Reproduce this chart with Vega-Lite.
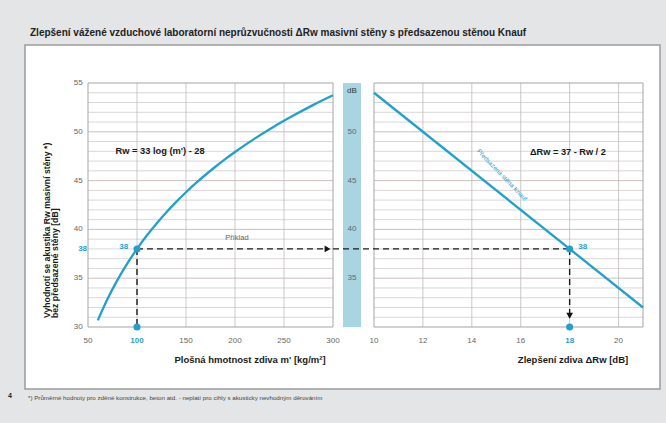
{
  "$schema": "https://vega.github.io/schema/vega-lite/v6.json",
  "autosize": "none",
  "width": 635,
  "height": 344,
  "padding": {"left": 25, "top": 45, "right": 6, "bottom": 34},
  "background": "#e4e5e7",
  "config": {
    "view": {"fill": "white", "stroke": "#9c9c9c", "strokeWidth": 1.5},
    "font": "Liberation Sans",
    "text": {"font": "Liberation Sans"}
  },
  "title": {
    "text": "Zlepšení vážené vzduchové laboratorní neprůzvučnosti ΔRw masivní stěny s předsazenou stěnou Knauf",
    "anchor": "start",
    "frame": "group",
    "fontSize": 10,
    "fontWeight": "bold",
    "font": "Liberation Sans",
    "color": "#222222",
    "offset": 7,
    "dx": 5
  },
  "datasets": {
    "curve": [
      {"m": 60, "R": 30.68}, {"m": 70, "R": 32.89}, {"m": 80, "R": 34.8}, {"m": 90, "R": 36.49},
      {"m": 100, "R": 38.0}, {"m": 110, "R": 39.37}, {"m": 120, "R": 40.61}, {"m": 130, "R": 41.76},
      {"m": 140, "R": 42.82}, {"m": 150, "R": 43.81}, {"m": 160, "R": 44.74}, {"m": 170, "R": 45.6},
      {"m": 180, "R": 46.42}, {"m": 190, "R": 47.2}, {"m": 200, "R": 47.93}, {"m": 220, "R": 49.3},
      {"m": 240, "R": 50.55}, {"m": 260, "R": 51.69}, {"m": 280, "R": 52.76}, {"m": 300, "R": 53.74}
    ],
    "knauf": [{"dR": 10, "R": 54}, {"dR": 21, "R": 32}],
    "hgrid": [
      {"y": 31}, {"y": 32}, {"y": 33}, {"y": 34}, {"y": 35}, {"y": 36}, {"y": 37}, {"y": 38},
      {"y": 39}, {"y": 40}, {"y": 41}, {"y": 42}, {"y": 43}, {"y": 44}, {"y": 45}, {"y": 46},
      {"y": 47}, {"y": 48}, {"y": 49}, {"y": 50}, {"y": 51}, {"y": 52}, {"y": 53}, {"y": 54}
    ],
    "vgridL": [{"x": 100}, {"x": 150}, {"x": 200}, {"x": 250}],
    "vgridR": [{"x": 12}, {"x": 14}, {"x": 16}, {"x": 18}, {"x": 20}]
  },
  "layer": [
    {
      "layer": [
        {
          "data": {"values": [{"lo": 310.2, "hi": 328.6, "b": 30, "t": 55}]},
          "mark": {"type": "rect", "color": "#a9d5e2"},
          "encoding": {
            "x": {"field": "lo", "type": "quantitative", "scale": {"domain": [-14.286, 633.67], "nice": false, "zero": false}, "axis": null},
            "x2": {"field": "hi"},
            "y": {"field": "b", "type": "quantitative", "scale": {"domain": [23.648, 58.893], "nice": false, "zero": false}, "axis": null},
            "y2": {"field": "t"}
          }
        },
        {
          "data": {"name": "hgrid"},
          "mark": {"type": "rule", "strokeWidth": 0.8},
          "encoding": {
            "x": {"datum": 50, "type": "quantitative", "scale": {"domain": [-14.286, 633.67], "nice": false, "zero": false}, "axis": null},
            "x2": {"datum": 300},
            "y": {"field": "y", "type": "quantitative", "scale": {"domain": [23.648, 58.893], "nice": false, "zero": false}, "axis": null},
            "color": {"condition": {"test": "datum.y % 5 == 0", "value": "#bfb0b0"}, "value": "#d0cccc"}
          }
        },
        {
          "data": {"name": "vgridL"},
          "mark": {"type": "rule", "strokeWidth": 0.8, "color": "#bfbaba"},
          "encoding": {
            "x": {"field": "x", "type": "quantitative", "scale": {"domain": [-14.286, 633.67], "nice": false, "zero": false}, "axis": null},
            "y": {"datum": 30, "type": "quantitative", "scale": {"domain": [23.648, 58.893], "nice": false, "zero": false}, "axis": null},
            "y2": {"datum": 55}
          }
        },
        {
          "data": {"values": [{}]},
          "mark": {"type": "rect", "fillOpacity": 0, "stroke": "#a5a5a5", "strokeWidth": 1},
          "encoding": {
            "x": {"datum": 50, "type": "quantitative", "scale": {"domain": [-14.286, 633.67], "nice": false, "zero": false}, "axis": null},
            "x2": {"datum": 300},
            "y": {"datum": 30, "type": "quantitative", "scale": {"domain": [23.648, 58.893], "nice": false, "zero": false}, "axis": null},
            "y2": {"datum": 55}
          }
        },
        {
          "data": {"name": "curve"},
          "mark": {"type": "line", "interpolate": "monotone", "color": "#22a0cb", "strokeWidth": 2.3},
          "encoding": {
            "x": {"field": "m", "type": "quantitative", "scale": {"domain": [-14.286, 633.67], "nice": false, "zero": false}, "axis": null},
            "y": {"field": "R", "type": "quantitative", "scale": {"domain": [23.648, 58.893], "nice": false, "zero": false}, "axis": null}
          }
        },
        {
          "data": {"values": [{"x": 100, "x2": 294, "y": 38, "y2": 38}, {"x": 100, "x2": 100, "y": 38, "y2": 30}]},
          "mark": {"type": "rule", "color": "#1a1a1a", "strokeWidth": 1.4, "strokeDash": [6, 4]},
          "encoding": {
            "x": {"field": "x", "type": "quantitative", "scale": {"domain": [-14.286, 633.67], "nice": false, "zero": false}, "axis": null},
            "x2": {"field": "x2"},
            "y": {"field": "y", "type": "quantitative", "scale": {"domain": [23.648, 58.893], "nice": false, "zero": false}, "axis": null},
            "y2": {"field": "y2"}
          }
        },
        {
          "data": {"values": [{"x": 294.4, "y": 38}]},
          "mark": {"type": "point", "shape": "triangle-right", "filled": true, "size": 45, "color": "#111111", "opacity": 1},
          "encoding": {
            "x": {"field": "x", "type": "quantitative", "scale": {"domain": [-14.286, 633.67], "nice": false, "zero": false}, "axis": null},
            "y": {"field": "y", "type": "quantitative", "scale": {"domain": [23.648, 58.893], "nice": false, "zero": false}, "axis": null}
          }
        },
        {
          "data": {"values": [{"x": 100, "y": 38}, {"x": 100, "y": 30}]},
          "mark": {"type": "point", "shape": "circle", "filled": true, "size": 50, "color": "#22a0cb", "opacity": 1},
          "encoding": {
            "x": {"field": "x", "type": "quantitative", "scale": {"domain": [-14.286, 633.67], "nice": false, "zero": false}, "axis": null},
            "y": {"field": "y", "type": "quantitative", "scale": {"domain": [23.648, 58.893], "nice": false, "zero": false}, "axis": null}
          }
        },
        {
          "data": {"values": [
            {"x": 50, "y": 28.57, "t": "50"}, {"x": 150, "y": 28.57, "t": "150"}, {"x": 200, "y": 28.57, "t": "200"},
            {"x": 250, "y": 28.57, "t": "250"}, {"x": 300, "y": 28.57, "t": "300"}
          ]},
          "mark": {"type": "text", "align": "center", "baseline": "middle", "fontSize": 8, "color": "#666666"},
          "encoding": {
            "x": {"field": "x", "type": "quantitative", "scale": {"domain": [-14.286, 633.67], "nice": false, "zero": false}, "axis": null},
            "y": {"field": "y", "type": "quantitative", "scale": {"domain": [23.648, 58.893], "nice": false, "zero": false}, "axis": null},
            "text": {"field": "t"}
          }
        },
        {
          "data": {"values": [
            {"x": 44.5, "y": 30, "t": "30"}, {"x": 44.5, "y": 35, "t": "35"}, {"x": 44.5, "y": 40, "t": "40"},
            {"x": 44.5, "y": 45, "t": "45"}, {"x": 44.5, "y": 50, "t": "50"}, {"x": 44.5, "y": 55, "t": "55"}
          ]},
          "mark": {"type": "text", "align": "right", "baseline": "middle", "fontSize": 8, "color": "#666666"},
          "encoding": {
            "x": {"field": "x", "type": "quantitative", "scale": {"domain": [-14.286, 633.67], "nice": false, "zero": false}, "axis": null},
            "y": {"field": "y", "type": "quantitative", "scale": {"domain": [23.648, 58.893], "nice": false, "zero": false}, "axis": null},
            "text": {"field": "t"}
          }
        },
        {
          "data": {"values": [{"x": 44.5, "y": 38, "t": "38", "a": "right"}, {"x": 100, "y": 28.57, "t": "100", "a": "center"}]},
          "mark": {"type": "text", "baseline": "middle", "fontSize": 8, "fontWeight": "bold", "color": "#1f9fcf"},
          "encoding": {
            "x": {"field": "x", "type": "quantitative", "scale": {"domain": [-14.286, 633.67], "nice": false, "zero": false}, "axis": null},
            "y": {"field": "y", "type": "quantitative", "scale": {"domain": [23.648, 58.893], "nice": false, "zero": false}, "axis": null},
            "text": {"field": "t"},
            "align": {"field": "a"}
          }
        },
        {
          "data": {"values": [{"x": 78, "y": 48, "t": "Rw = 33 log (m') - 28"}]},
          "mark": {"type": "text", "align": "left", "baseline": "middle", "fontSize": 9.3, "fontWeight": "bold", "color": "#1a1a1a"},
          "encoding": {
            "x": {"field": "x", "type": "quantitative", "scale": {"domain": [-14.286, 633.67], "nice": false, "zero": false}, "axis": null},
            "y": {"field": "y", "type": "quantitative", "scale": {"domain": [23.648, 58.893], "nice": false, "zero": false}, "axis": null},
            "text": {"field": "t"}
          }
        },
        {
          "data": {"values": [{"x": 202, "y": 39.1, "t": "Příklad"}]},
          "mark": {"type": "text", "align": "center", "baseline": "middle", "fontSize": 7.5, "color": "#666666"},
          "encoding": {
            "x": {"field": "x", "type": "quantitative", "scale": {"domain": [-14.286, 633.67], "nice": false, "zero": false}, "axis": null},
            "y": {"field": "y", "type": "quantitative", "scale": {"domain": [23.648, 58.893], "nice": false, "zero": false}, "axis": null},
            "text": {"field": "t"}
          }
        },
        {
          "data": {"values": [{"x": 91, "y": 38.2, "t": "38"}]},
          "mark": {"type": "text", "align": "right", "baseline": "middle", "fontSize": 8, "fontWeight": "bold", "color": "#1f9fcf"},
          "encoding": {
            "x": {"field": "x", "type": "quantitative", "scale": {"domain": [-14.286, 633.67], "nice": false, "zero": false}, "axis": null},
            "y": {"field": "y", "type": "quantitative", "scale": {"domain": [23.648, 58.893], "nice": false, "zero": false}, "axis": null},
            "text": {"field": "t"}
          }
        },
        {
          "data": {"values": [{"x": 215.3, "y": 26.62, "t": "Plošná hmotnost zdiva m' [kg/m²]"}]},
          "mark": {"type": "text", "align": "center", "baseline": "middle", "fontSize": 9.5, "fontWeight": "bold", "color": "#1a1a1a"},
          "encoding": {
            "x": {"field": "x", "type": "quantitative", "scale": {"domain": [-14.286, 633.67], "nice": false, "zero": false}, "axis": null},
            "y": {"field": "y", "type": "quantitative", "scale": {"domain": [23.648, 58.893], "nice": false, "zero": false}, "axis": null},
            "text": {"field": "t"}
          }
        },
        {
          "data": {"values": [
            {"x": 8.16, "y": 30.92, "t": "Vyhodnotí se akustika Rw masivní stěny *)"},
            {"x": 16.33, "y": 30.92, "t": "bez předsazené stěny [dB]"}
          ]},
          "mark": {"type": "text", "align": "left", "baseline": "middle", "angle": 270, "fontSize": 8.7, "fontWeight": "bold", "color": "#1a1a1a"},
          "encoding": {
            "x": {"field": "x", "type": "quantitative", "scale": {"domain": [-14.286, 633.67], "nice": false, "zero": false}, "axis": null},
            "y": {"field": "y", "type": "quantitative", "scale": {"domain": [23.648, 58.893], "nice": false, "zero": false}, "axis": null},
            "text": {"field": "t"}
          }
        },
        {
          "data": {"values": [{"x": -11.2, "y": 22.73, "t": "*) Průměrné hodnoty pro zděné konstrukce, beton atd. - neplatí pro cihly s akusticky nevhodným děrováním"}]},
          "mark": {"type": "text", "align": "left", "baseline": "middle", "fontSize": 6.2, "color": "#444444"},
          "encoding": {
            "x": {"field": "x", "type": "quantitative", "scale": {"domain": [-14.286, 633.67], "nice": false, "zero": false}, "axis": null},
            "y": {"field": "y", "type": "quantitative", "scale": {"domain": [23.648, 58.893], "nice": false, "zero": false}, "axis": null},
            "text": {"field": "t"}
          }
        },
        {
          "data": {"values": [{"x": -29.6, "y": 22.9, "t": "4"}]},
          "mark": {"type": "text", "align": "center", "baseline": "middle", "fontSize": 7, "fontWeight": "bold", "color": "#222222"},
          "encoding": {
            "x": {"field": "x", "type": "quantitative", "scale": {"domain": [-14.286, 633.67], "nice": false, "zero": false}, "axis": null},
            "y": {"field": "y", "type": "quantitative", "scale": {"domain": [23.648, 58.893], "nice": false, "zero": false}, "axis": null},
            "text": {"field": "t"}
          }
        },
        {
          "data": {"values": [{"x": 319.4, "y": 50, "t": "50"}, {"x": 319.4, "y": 45, "t": "45"}, {"x": 319.4, "y": 40, "t": "40"}, {"x": 319.4, "y": 35, "t": "35"}]},
          "mark": {"type": "text", "align": "center", "baseline": "middle", "fontSize": 8, "color": "#5a6a70"},
          "encoding": {
            "x": {"field": "x", "type": "quantitative", "scale": {"domain": [-14.286, 633.67], "nice": false, "zero": false}, "axis": null},
            "y": {"field": "y", "type": "quantitative", "scale": {"domain": [23.648, 58.893], "nice": false, "zero": false}, "axis": null},
            "text": {"field": "t"}
          }
        },
        {
          "data": {"values": [{"x": 319.4, "y": 54.18, "t": "dB"}]},
          "mark": {"type": "text", "align": "center", "baseline": "middle", "fontSize": 8, "color": "#2a3a40"},
          "encoding": {
            "x": {"field": "x", "type": "quantitative", "scale": {"domain": [-14.286, 633.67], "nice": false, "zero": false}, "axis": null},
            "y": {"field": "y", "type": "quantitative", "scale": {"domain": [23.648, 58.893], "nice": false, "zero": false}, "axis": null},
            "text": {"field": "t"}
          }
        }
      ]
    },
    {
      "layer": [
        {
          "data": {"name": "hgrid"},
          "mark": {"type": "rule", "strokeWidth": 0.8},
          "encoding": {
            "x": {"datum": 10, "type": "quantitative", "scale": {"domain": [-4.271, 21.695], "nice": false, "zero": false}, "axis": null},
            "x2": {"datum": 21},
            "y": {"field": "y", "type": "quantitative", "scale": {"domain": [23.648, 58.893], "nice": false, "zero": false}, "axis": null},
            "color": {"condition": {"test": "datum.y % 5 == 0", "value": "#bfb0b0"}, "value": "#d0cccc"}
          }
        },
        {
          "data": {"name": "vgridR"},
          "mark": {"type": "rule", "strokeWidth": 0.8, "color": "#bfbaba"},
          "encoding": {
            "x": {"field": "x", "type": "quantitative", "scale": {"domain": [-4.271, 21.695], "nice": false, "zero": false}, "axis": null},
            "y": {"datum": 30, "type": "quantitative", "scale": {"domain": [23.648, 58.893], "nice": false, "zero": false}, "axis": null},
            "y2": {"datum": 55}
          }
        },
        {
          "data": {"values": [{}]},
          "mark": {"type": "rect", "fillOpacity": 0, "stroke": "#a5a5a5", "strokeWidth": 1},
          "encoding": {
            "x": {"datum": 10, "type": "quantitative", "scale": {"domain": [-4.271, 21.695], "nice": false, "zero": false}, "axis": null},
            "x2": {"datum": 21},
            "y": {"datum": 30, "type": "quantitative", "scale": {"domain": [23.648, 58.893], "nice": false, "zero": false}, "axis": null},
            "y2": {"datum": 55}
          }
        },
        {
          "data": {"name": "knauf"},
          "mark": {"type": "line", "color": "#22a0cb", "strokeWidth": 2.3},
          "encoding": {
            "x": {"field": "dR", "type": "quantitative", "scale": {"domain": [-4.271, 21.695], "nice": false, "zero": false}, "axis": null},
            "y": {"field": "R", "type": "quantitative", "scale": {"domain": [23.648, 58.893], "nice": false, "zero": false}, "axis": null}
          }
        },
        {
          "data": {"values": [{"x": 8.324, "x2": 18, "y": 38, "y2": 38}, {"x": 18, "x2": 18, "y": 38, "y2": 31.3}]},
          "mark": {"type": "rule", "color": "#1a1a1a", "strokeWidth": 1.4, "strokeDash": [6, 4]},
          "encoding": {
            "x": {"field": "x", "type": "quantitative", "scale": {"domain": [-4.271, 21.695], "nice": false, "zero": false}, "axis": null},
            "x2": {"field": "x2"},
            "y": {"field": "y", "type": "quantitative", "scale": {"domain": [23.648, 58.893], "nice": false, "zero": false}, "axis": null},
            "y2": {"field": "y2"}
          }
        },
        {
          "data": {"values": [{"x": 18, "y": 31.15}]},
          "mark": {"type": "point", "shape": "triangle-down", "filled": true, "size": 45, "color": "#111111", "opacity": 1},
          "encoding": {
            "x": {"field": "x", "type": "quantitative", "scale": {"domain": [-4.271, 21.695], "nice": false, "zero": false}, "axis": null},
            "y": {"field": "y", "type": "quantitative", "scale": {"domain": [23.648, 58.893], "nice": false, "zero": false}, "axis": null}
          }
        },
        {
          "data": {"values": [{"x": 18, "y": 38}, {"x": 18, "y": 30}]},
          "mark": {"type": "point", "shape": "circle", "filled": true, "size": 50, "color": "#22a0cb", "opacity": 1},
          "encoding": {
            "x": {"field": "x", "type": "quantitative", "scale": {"domain": [-4.271, 21.695], "nice": false, "zero": false}, "axis": null},
            "y": {"field": "y", "type": "quantitative", "scale": {"domain": [23.648, 58.893], "nice": false, "zero": false}, "axis": null}
          }
        },
        {
          "data": {"values": [
            {"x": 10, "y": 28.57, "t": "10"}, {"x": 12, "y": 28.57, "t": "12"}, {"x": 14, "y": 28.57, "t": "14"},
            {"x": 16, "y": 28.57, "t": "16"}, {"x": 20, "y": 28.57, "t": "20"}
          ]},
          "mark": {"type": "text", "align": "center", "baseline": "middle", "fontSize": 8, "color": "#666666"},
          "encoding": {
            "x": {"field": "x", "type": "quantitative", "scale": {"domain": [-4.271, 21.695], "nice": false, "zero": false}, "axis": null},
            "y": {"field": "y", "type": "quantitative", "scale": {"domain": [23.648, 58.893], "nice": false, "zero": false}, "axis": null},
            "text": {"field": "t"}
          }
        },
        {
          "data": {"values": [{"x": 18, "y": 28.57, "t": "18"}]},
          "mark": {"type": "text", "align": "center", "baseline": "middle", "fontSize": 8, "fontWeight": "bold", "color": "#1f9fcf"},
          "encoding": {
            "x": {"field": "x", "type": "quantitative", "scale": {"domain": [-4.271, 21.695], "nice": false, "zero": false}, "axis": null},
            "y": {"field": "y", "type": "quantitative", "scale": {"domain": [23.648, 58.893], "nice": false, "zero": false}, "axis": null},
            "text": {"field": "t"}
          }
        },
        {
          "data": {"values": [{"x": 16.38, "y": 47.93, "t": "ΔRw = 37 - Rw / 2"}]},
          "mark": {"type": "text", "align": "left", "baseline": "middle", "fontSize": 9.2, "fontWeight": "bold", "color": "#1a1a1a"},
          "encoding": {
            "x": {"field": "x", "type": "quantitative", "scale": {"domain": [-4.271, 21.695], "nice": false, "zero": false}, "axis": null},
            "y": {"field": "y", "type": "quantitative", "scale": {"domain": [23.648, 58.893], "nice": false, "zero": false}, "axis": null},
            "text": {"field": "t"}
          }
        },
        {
          "data": {"values": [{"x": 15.235, "y": 45.57, "t": "Předsazená stěna Knauf"}]},
          "mark": {"type": "text", "align": "center", "baseline": "middle", "angle": 46, "fontSize": 6.3, "color": "#22a0cb"},
          "encoding": {
            "x": {"field": "x", "type": "quantitative", "scale": {"domain": [-4.271, 21.695], "nice": false, "zero": false}, "axis": null},
            "y": {"field": "y", "type": "quantitative", "scale": {"domain": [23.648, 58.893], "nice": false, "zero": false}, "axis": null},
            "text": {"field": "t"}
          }
        },
        {
          "data": {"values": [{"x": 18.35, "y": 38.2, "t": "38"}]},
          "mark": {"type": "text", "align": "left", "baseline": "middle", "fontSize": 8, "fontWeight": "bold", "color": "#1f9fcf"},
          "encoding": {
            "x": {"field": "x", "type": "quantitative", "scale": {"domain": [-4.271, 21.695], "nice": false, "zero": false}, "axis": null},
            "y": {"field": "y", "type": "quantitative", "scale": {"domain": [23.648, 58.893], "nice": false, "zero": false}, "axis": null},
            "text": {"field": "t"}
          }
        },
        {
          "data": {"values": [{"x": 18.138, "y": 26.62, "t": "Zlepšení zdiva ΔRw [dB]"}]},
          "mark": {"type": "text", "align": "center", "baseline": "middle", "fontSize": 9.5, "fontWeight": "bold", "color": "#1a1a1a"},
          "encoding": {
            "x": {"field": "x", "type": "quantitative", "scale": {"domain": [-4.271, 21.695], "nice": false, "zero": false}, "axis": null},
            "y": {"field": "y", "type": "quantitative", "scale": {"domain": [23.648, 58.893], "nice": false, "zero": false}, "axis": null},
            "text": {"field": "t"}
          }
        }
      ]
    }
  ],
  "resolve": {"scale": {"x": "independent"}}
}
